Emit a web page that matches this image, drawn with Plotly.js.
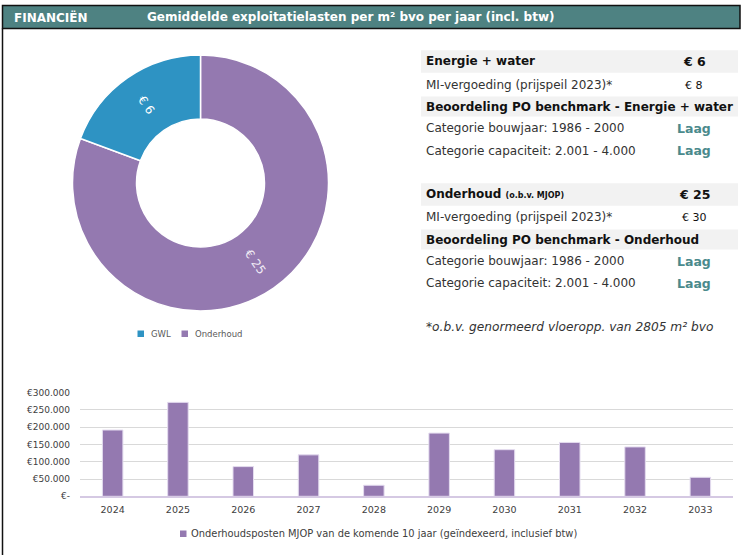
<!DOCTYPE html>
<html>
<head>
<meta charset="utf-8">
<script src="https://cdn.plot.ly/plotly-3.0.1.min.js"></script>
<style>
  html, body { margin: 0; padding: 0; background: #ffffff; }
  #chart { width: 741px; height: 555px; }
</style>
</head>
<body>
<div id="chart"></div>
<script>
// ---------- data ----------
const donutLabels = ['GWL', 'Onderhoud'];
const donutValues = [6, 25];
const donutText = ['€ 6', '€ 25'];

const years = ['2024', '2025', '2026', '2027', '2028', '2029', '2030', '2031', '2032', '2033'];
const mjopCosts = [192000, 272000, 86000, 120000, 32000, 183000, 135000, 156000, 143000, 55000];
const yTickVals = [0, 50000, 100000, 150000, 200000, 250000, 300000];
const yTickText = ['€-', '€50.000', '€100.000', '€150.000', '€200.000', '€250.000', '€300.000'];
const barSeriesName = 'Onderhoudsposten MJOP van de komende 10 jaar (geïndexeerd, inclusief btw)';

const headerLeft = 'FINANCIËN';
const headerTitle = 'Gemiddelde exploitatielasten per m² bvo per jaar (incl. btw)';

const tableLabels = [
  '<b>Energie + water</b>',
  'MI-vergoeding (prijspeil 2023)*',
  '<b>Beoordeling PO benchmark - Energie + water</b>',
  'Categorie bouwjaar: 1986 - 2000',
  'Categorie capaciteit: 2.001 - 4.000',
  '<b>Onderhoud <span style="font-size:8px">(o.b.v. MJOP)</span></b>',
  'MI-vergoeding (prijspeil 2023)*',
  '<b>Beoordeling PO benchmark - Onderhoud</b>',
  'Categorie bouwjaar: 1986 - 2000',
  'Categorie capaciteit: 2.001 - 4.000'
];
const tableValues = ['<b>€ 6</b>', '€ 8', '', '<b>Laag</b>', '<b>Laag</b>',
                     '<b>€ 25</b>', '€ 30', '', '<b>Laag</b>', '<b>Laag</b>'];
const tableShaded = [true, false, true, false, false, true, false, true, false, false];
const footnote = '<i>*o.b.v. genormeerd vloeropp. van 2805 m² bvo</i>';

// ---------- helpers (pixel -> paper) ----------
const W = 741, H = 555;
const X = px => px / W;
const Y = py => 1 - py / H;
const FONT = 'DejaVu Sans';
const purple = '#9479b0';
const blue = '#2e93c3';
const teal = '#4e8282';
const donutColors = [blue, purple];
const donutTextColors = ['#ffffff', '#f1ecf6'];

// donut geometry (pixels)
const pieBox = { x0: 72.5, x1: 328.5, y0: 55, y1: 311 };
const HOLE = 0.5;

// ---------- traces ----------
// slices drawn clockwise from 12 o'clock in reversed order, so GWL ends at 12 o'clock (as in the reference)
const rev = a => a.slice().reverse();
const pie = {
  type: 'pie',
  labels: rev(donutLabels),
  values: rev(donutValues),
  text: rev(donutText),
  textinfo: 'text',
  textposition: ['none', 'inside'],
  insidetextorientation: 'radial',
  hole: HOLE,
  sort: false,
  direction: 'clockwise',
  rotation: 0,
  marker: { colors: rev(donutColors), line: { color: '#ffffff', width: 1.5 } },
  textfont: { family: FONT, size: 12, color: rev(donutTextColors) },
  domain: { x: [X(pieBox.x0), X(pieBox.x1)], y: [Y(pieBox.y1), Y(pieBox.y0)] },
  showlegend: false,
  hoverinfo: 'label+value'
};

const bars = {
  type: 'bar',
  x: years,
  y: mjopCosts,
  name: barSeriesName,
  marker: { color: purple, line: { color: '#e4dcef', width: 1 } },
  showlegend: false,
  xaxis: 'x',
  yaxis: 'y'
};

// ---------- shapes ----------
const shapes = [];
shapes.push({ type: 'rect', xref: 'paper', yref: 'paper', x0: X(2.5), x1: X(740), y0: Y(28.5), y1: Y(5.5),
  fillcolor: teal, line: { color: '#111111', width: 1.5 }, layer: 'below' });
shapes.push({ type: 'line', xref: 'paper', yref: 'paper', x0: X(2.5), x1: X(2.5), y0: Y(28.5), y1: Y(555),
  line: { color: '#111111', width: 1.5 } });

const rowCenters = [61.5, 85, 106.5, 128.5, 150.5, 194.5, 217, 239.5, 261, 283];
const rowHalf = [11.3, 10, 10, 10, 10, 11.2, 10, 10, 10, 10];
const annotations = [];
tableLabels.forEach((lab, i) => {
  const yc = rowCenters[i];
  if (tableShaded[i]) {
    shapes.push({ type: 'rect', xref: 'paper', yref: 'paper', x0: X(421), x1: X(738),
      y0: Y(yc + rowHalf[i]), y1: Y(yc - rowHalf[i]), fillcolor: '#f2f2f2', line: { width: 0 }, layer: 'below' });
  }
  const isBold = lab.indexOf('<b>') === 0;
  annotations.push({ xref: 'paper', yref: 'paper', x: X(424), y: Y(yc), xanchor: 'left', yanchor: 'middle',
    text: lab, showarrow: false, align: 'left',
    font: { family: FONT, size: 12, color: isBold ? '#111111' : '#333333' } });
  const v = tableValues[i];
  if (v) {
    const isLaag = v.indexOf('Laag') >= 0;
    const isBoldV = v.indexOf('<b>') === 0;
    annotations.push({ xref: 'paper', yref: 'paper', x: X(694), y: Y(yc), xanchor: 'center', yanchor: 'middle',
      text: v, showarrow: false,
      font: { family: FONT, size: isLaag ? 12.5 : (isBoldV ? 12.5 : 11), color: isLaag ? '#4b8a8c' : '#111111' } });
  }
});
annotations.push({ xref: 'paper', yref: 'paper', x: X(424), y: Y(327), xanchor: 'left', yanchor: 'middle',
  text: footnote, showarrow: false, font: { family: FONT, size: 12.2, color: '#333333' } });

annotations.push({ xref: 'paper', yref: 'paper', x: X(12), y: Y(17), xanchor: 'left', yanchor: 'middle',
  text: '<b>' + headerLeft + '</b>', showarrow: false, font: { family: FONT, size: 12, color: '#ffffff' } });
annotations.push({ xref: 'paper', yref: 'paper', x: X(145), y: Y(17), xanchor: 'left', yanchor: 'middle',
  text: '<b>' + headerTitle + '</b>', showarrow: false, font: { family: FONT, size: 12, color: '#ffffff' } });

// label of the large Onderhoud slice, placed radially at the slice's mid angle (computed from the values)
(function () {
  const total = donutValues.reduce((a, b) => a + b, 0);
  const midDeg = 0.5 * donutValues[1] / total * 360;       // clockwise from 12 o'clock
  const cx = (pieBox.x0 + pieBox.x1) / 2, cy = (pieBox.y0 + pieBox.y1) / 2;
  const rOut = (pieBox.x1 - pieBox.x0) / 2;
  const rMid = rOut * (1 + HOLE) / 2;
  const a = midDeg * Math.PI / 180;
  annotations.push({ xref: 'paper', yref: 'paper',
    x: X(cx + rMid * Math.sin(a)), y: Y(cy - rMid * Math.cos(a)),
    xanchor: 'center', yanchor: 'middle', showarrow: false,
    text: donutText[1], textangle: midDeg - 90,
    font: { family: FONT, size: 12, color: donutTextColors[1] } });
})();

const donutLegendX = [[137.5, 149], [181.5, 193]];
donutLabels.forEach((lab, i) => {
  const [sx, tx] = donutLegendX[i];
  shapes.push({ type: 'rect', xref: 'paper', yref: 'paper', x0: X(sx), x1: X(sx + 6.5), y0: Y(337), y1: Y(330.5),
    fillcolor: donutColors[i], line: { width: 0 } });
  annotations.push({ xref: 'paper', yref: 'paper', x: X(tx), y: Y(334), xanchor: 'left', yanchor: 'middle',
    text: lab, showarrow: false, font: { family: FONT, size: 8.5, color: '#595959' } });
});

shapes.push({ type: 'rect', xref: 'paper', yref: 'paper', x0: X(180), x1: X(186.5), y0: Y(537), y1: Y(530.5),
  fillcolor: purple, line: { width: 0 } });
annotations.push({ xref: 'paper', yref: 'paper', x: X(189), y: Y(533.5), xanchor: 'left', yanchor: 'middle',
  text: barSeriesName, showarrow: false, font: { family: FONT, size: 9.9, color: '#404040' } });

// ---------- layout ----------
const layout = {
  width: W, height: H,
  margin: { l: 0, r: 0, t: 0, b: 0, pad: 0 },
  paper_bgcolor: '#ffffff', plot_bgcolor: '#ffffff',
  font: { family: FONT, color: '#404040' },
  bargap: 0.686,
  xaxis: {
    domain: [X(80), X(733)],
    anchor: 'y',
    type: 'category',
    showgrid: false,
    zeroline: false,
    showline: true, linecolor: '#d5c9e3', linewidth: 1.5,
    ticks: '',
    ticklabelstandoff: 4,
    tickfont: { family: FONT, size: 9.5, color: '#404040' },
    fixedrange: true
  },
  yaxis: {
    domain: [Y(496.3), Y(392.7)],
    anchor: 'x',
    range: [0, 300000],
    tickvals: yTickVals,
    ticktext: yTickText,
    showgrid: true, gridcolor: '#d9d9d9', gridwidth: 1,
    zeroline: false,
    showline: false,
    ticks: '',
    ticklabelstandoff: 9,
    tickfont: { family: FONT, size: 9, color: '#404040' },
    fixedrange: true
  },
  shapes: shapes,
  annotations: annotations
};

Plotly.newPlot('chart', [pie, bars], layout, { displayModeBar: false, staticPlot: true });
</script>
</body>
</html>
